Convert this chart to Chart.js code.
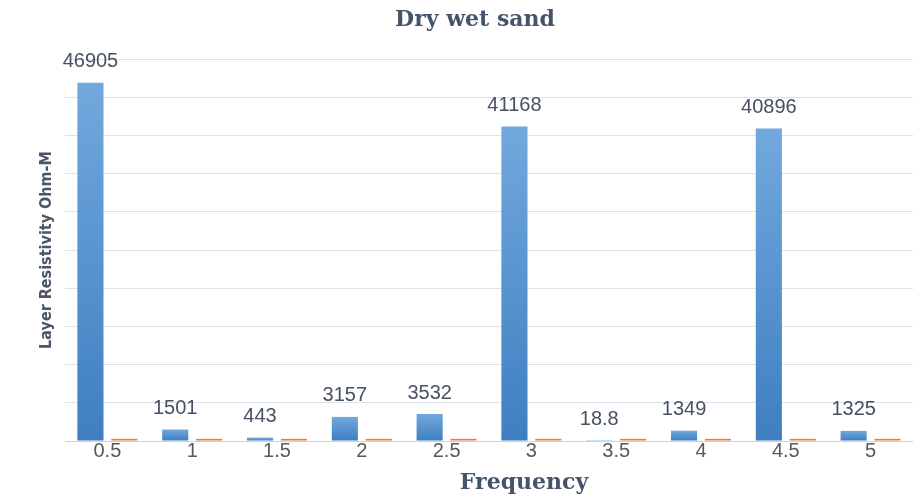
<!DOCTYPE html>
<html>
<head>
<meta charset="utf-8">
<script src="https://cdn.jsdelivr.net/npm/chart.js@4/dist/chart.umd.min.js"></script>
<style>
    html, body { margin: 0; padding: 0; background: #ffffff; }
    #wrap { width: 913px; height: 497px; }
</style>
</head>
<body>
<div id="wrap"><canvas id="chart"></canvas></div>
<script>
const frequencies = ['0.5', '1', '1.5', '2', '2.5', '3', '3.5', '4', '4.5', '5'];
const resistivity = [46905, 1501, 443, 3157, 3532, 41168, 18.8, 1349, 40896, 1325];
const secondSeries = [280, 280, 280, 280, 280, 280, 280, 280, 280, 280];
const yMax = 50000;
const yStep = 5000;

const slate = '#44546a';

const blueGradient = (context) => {
    const chart = context.chart;
    const yScale = chart.scales.y;
    if (!chart.chartArea || !yScale || context.raw === undefined) {
        return '#5b9bd5';
    }
    const top = yScale.getPixelForValue(context.raw);
    const bottom = yScale.getPixelForValue(0);
    const gradient = chart.ctx.createLinearGradient(0, top, 0, Math.max(bottom, top + 1));
    gradient.addColorStop(0, '#72a8dd');
    gradient.addColorStop(1, '#3e7fc1');
    return gradient;
};

// value labels over the blue bars
const valueLabels = {
    id: 'valueLabels',
    afterDatasetsDraw(chart) {
        const ctx = chart.ctx;
        const meta = chart.getDatasetMeta(0);
        ctx.save();
        ctx.font = '20px "Liberation Sans", Arial, sans-serif';
        ctx.fillStyle = '#465163';
        ctx.textAlign = 'center';
        ctx.textBaseline = 'middle';
        meta.data.forEach((bar, i) => {
            ctx.fillText(String(resistivity[i]), bar.x, bar.y - 21);
        });
        ctx.restore();
    },
};

// chart title and x title, placed like the original
const titles = {
    id: 'titles',
    afterDraw(chart) {
        const ctx = chart.ctx;
        ctx.save();
        ctx.fillStyle = slate;
        ctx.textAlign = 'center';
        ctx.textBaseline = 'middle';
        ctx.font = 'bold 22px "DejaVu Serif", serif';
        ctx.fillText('Dry wet sand', 475, 20);
        ctx.fillText('Frequency', 524, 483);
        ctx.restore();
    },
};

new Chart(document.getElementById('chart'), {
    type: 'bar',
    data: {
        labels: frequencies,
        datasets: [
            {
                label: 'Layer Resistivity',
                data: resistivity,
                backgroundColor: blueGradient,
                categoryPercentage: 0.8,
                barPercentage: 0.77,
            },
            {
                label: 'Series 2',
                data: secondSeries,
                backgroundColor: '#ed7d31',
                categoryPercentage: 0.8,
                barPercentage: 0.77,
            },
        ],
    },
    options: {
        responsive: true,
        maintainAspectRatio: false,
        animation: false,
        layout: { padding: { top: 59, right: 0, left: 0, bottom: 0 } },
        plugins: {
            legend: { display: false },
            tooltip: { enabled: false },
        },
        scales: {
            x: {
                grid: { display: false, drawTicks: false, tickLength: 0 },
                border: { color: '#cdd2d8', width: 1 },
                ticks: {
                    color: '#595959',
                    font: { family: '"Liberation Sans", Arial, sans-serif', size: 20 },
                    padding: -2,
                    maxRotation: 0,
                },
                afterFit(scale) { scale.height = 56; },
            },
            y: {
                min: 0,
                max: yMax,
                ticks: { display: false, stepSize: yStep },
                grid: { color: '#dde2e8', drawTicks: false },
                border: { display: false },
                title: {
                    display: true,
                    text: 'Layer Resistivity Ohm-M',
                    color: '#4b5566',
                    font: { family: '"Liberation Sans Narrow", "DejaVu Sans Condensed", sans-serif', size: 16, weight: 'bold' },
                    padding: { top: 37, bottom: 0 },
                },
                afterFit(scale) { scale.width = 65; },
            },
        },
    },
    plugins: [valueLabels, titles],
});
</script>
</body>
</html>
